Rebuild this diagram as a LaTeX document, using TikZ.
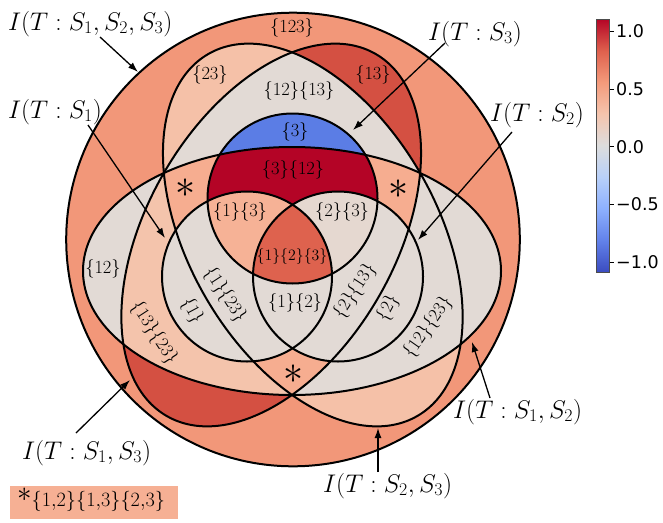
\RequirePackage{fix-cm}
\documentclass[tikz,border=0pt]{standalone}
\usepackage{fontspec}
\newfontfamily\dejavu{DejaVu Sans}
\usetikzlibrary{arrows.meta}

\definecolor{cOuter}{RGB}{242,151,121}
\definecolor{cThirteen}{RGB}{212,80,66}
\definecolor{cTwentyThree}{RGB}{245,193,168}
\definecolor{cGrey}{RGB}{226,218,213}
\definecolor{cStar}{RGB}{246,173,144}
\definecolor{cThirteenTwentyThree}{RGB}{244,196,172}
\definecolor{cThree}{RGB}{91,125,229}
\definecolor{cThreeTwelve}{RGB}{180,4,38}
\definecolor{cOneThree}{RGB}{246,178,150}
\definecolor{cTwoThree}{RGB}{229,216,208}
\definecolor{cCenter}{RGB}{222,98,78}
\definecolor{cLegend}{RGB}{246,176,148}
\definecolor{cwA}{RGB}{59,76,192}
\definecolor{cwB}{RGB}{98,130,234}
\definecolor{cwC}{RGB}{141,176,254}
\definecolor{cwD}{RGB}{184,208,249}
\definecolor{cwE}{RGB}{221,221,221}
\definecolor{cwF}{RGB}{245,196,173}
\definecolor{cwG}{RGB}{244,154,123}
\definecolor{cwH}{RGB}{222,96,77}
\definecolor{cwI}{RGB}{180,4,38}

\pgfdeclareverticalshading{coolwarmsh}{100bp}{color(0bp)=(cwA); color(25bp)=(cwA); color(31.25bp)=(cwB); color(37.5bp)=(cwC); color(43.75bp)=(cwD); color(50bp)=(cwE); color(56.25bp)=(cwF); color(62.5bp)=(cwG); color(68.75bp)=(cwH); color(75bp)=(cwI); color(100bp)=(cwI)}

\tikzset{
  pO/.style={insert path={(293,239.5) circle[radius=226.8]}},
  pA/.style={insert path={(292,271) circle[x radius=209, y radius=124]}},
  pB/.style={insert path={(271.2,235) circle[x radius=209, y radius=124, rotate=60]}},
  pC/.style={insert path={(312.8,235) circle[x radius=209, y radius=124, rotate=-60]}},
  pSa/.style={insert path={(247,276.5) circle[radius=85]}},
  pSb/.style={insert path={(338,276.5) circle[radius=85]}},
  pSc/.style={insert path={(292.5,198.5) circle[radius=85]}},
  outline/.style={draw=black, line width=2pt},
  region/.style={font=\fontsize{18.5}{22}\selectfont, inner sep=0pt},
  smallregion/.style={font=\fontsize{15.8}{18}\selectfont, inner sep=0pt},
  starlbl/.style={font=\fontsize{40}{44}\selectfont, inner sep=0pt},
  annot/.style={font=\fontsize{25.5}{30}\selectfont, inner sep=0pt},
  arr/.style={-{Latex[length=10pt,width=7pt]}, line width=1.3pt, black},
  cbl/.style={font=\dejavu\fontsize{17.5}{20}\selectfont, inner sep=0pt},
}

\begin{document}
\begin{tikzpicture}[x=1pt,y=-1pt]
\useasboundingbox (0,0) rectangle (663,522);

% ---- region fills ----
\fill[cOuter, pO];
\fill[cThirteen, pB];
\fill[cTwentyThree, pC];
\fill[cGrey, pA];
\begin{scope}\clip[pB]; \fill[cGrey, pC]; \end{scope}
\begin{scope}\clip[pA]; \fill[cThirteenTwentyThree, pB]; \end{scope}
\begin{scope}\clip[pA]; \fill[cGrey, pC]; \end{scope}
\begin{scope}\clip[pA]; \clip[pB]; \fill[cStar, pC]; \end{scope}
\fill[cGrey, pSa];
\fill[cGrey, pSb];
\fill[cThree, pSc];
\begin{scope}\clip[pA]; \fill[cThreeTwelve, pSc]; \end{scope}
\begin{scope}\clip[pSa]; \fill[cOneThree, pSc]; \end{scope}
\begin{scope}\clip[pSb]; \fill[cTwoThree, pSc]; \end{scope}
\begin{scope}\clip[pSa]; \fill[cGrey, pSb]; \end{scope}
\begin{scope}\clip[pSa]; \clip[pSb]; \fill[cCenter, pSc]; \end{scope}

% ---- outlines ----
\path[outline, pO];
\path[outline, pA];
\path[outline, pB];
\path[outline, pC];
\path[outline, pSa];
\path[outline, pSb];
\path[outline, pSc];

% ---- region labels ----
\node[region] (r123) at (292,28) {$\{123\}$};
\node[region] (r23) at (210,75) {$\{23\}$};
\node[region] (r13) at (373,75) {$\{13\}$};
\node[region] (r12r13) at (299,91) {$\{12\}\{13\}$};
\node[region] (r3) at (295,132) {$\{3\}$};
\node[region] (r3r12) at (293,170) {$\{3\}\{12\}$};
\node[region] (r1r3) at (240,212) {$\{1\}\{3\}$};
\node[region] (r2r3) at (342,212) {$\{2\}\{3\}$};
\node[smallregion] (r1r2r3) at (292,257) {$\{1\}\{2\}\{3\}$};
\node[region] (r12) at (103,269) {$\{12\}$};
\node[region, rotate=-57] (r1r23) at (225,295) {$\{1\}\{23\}$};
\node[region, rotate=-62] (r1) at (192,311) {$\{1\}$};
\node[region] (r1r2) at (295,303) {$\{1\}\{2\}$};
\node[region, rotate=57] (r2r13) at (355,291) {$\{2\}\{13\}$};
\node[region, rotate=62] (r2) at (388,308) {$\{2\}$};
\node[region, rotate=55] (r12r23) at (428,327) {$\{12\}\{23\}$};
\node[region, rotate=-57] (r13r23) at (154,333) {$\{13\}\{23\}$};
\node[starlbl] (stl) at (185,188) {$\ast$};
\node[starlbl] (str) at (398,189) {$\ast$};
\node[starlbl] (stb) at (293,374) {$\ast$};

% ---- annotations ----
\node[annot, anchor=base west] (aAll) at (8,30) {$I(T:S_1,S_2,S_3)$};
\node[annot, anchor=base west] (aOne) at (8,118) {$I(T:S_1)$};
\node[annot, anchor=base west] (aThree) at (428,40) {$I(T:S_3)$};
\node[annot, anchor=base west] (aTwo) at (490,121) {$I(T:S_2)$};
\node[annot, anchor=base west] (aOneTwo) at (453,418) {$I(T:S_1,S_2)$};
\node[annot, anchor=base west] (aOneThree) at (22,459) {$I(T:S_1,S_3)$};
\node[annot, anchor=base west] (aTwoThree) at (323,492) {$I(T:S_2,S_3)$};

\coordinate (sAll) at (100,37);   \coordinate (eAll) at (138,72);
\coordinate (sOne) at (88,125);   \coordinate (eOne) at (165,238);
\coordinate (sThree) at (445,43); \coordinate (eThree) at (353,130);
\coordinate (sTwo) at (512,132);  \coordinate (eTwo) at (418,240);
\coordinate (sOneTwo) at (490,398); \coordinate (eOneTwo) at (472,342);
\coordinate (sOneThree) at (76,433); \coordinate (eOneThree) at (130,380);
\coordinate (sTwoThree) at (378,472); \coordinate (eTwoThree) at (378,428);
\draw[arr] (sAll) -- (eAll);
\draw[arr] (sOne) -- (eOne);
\draw[arr] (sThree) -- (eThree);
\draw[arr] (sTwo) -- (eTwo);
\draw[arr] (sOneTwo) -- (eOneTwo);
\draw[arr] (sOneThree) -- (eOneThree);
\draw[arr] (sTwoThree) -- (eTwoThree);

% ---- legend ----
\fill[cLegend] (10,486) rectangle (178,519);
\node[font=\fontsize{29}{34}\selectfont, inner sep=0pt, anchor=west] (leg) at (17,500) {$\ast_{\{1,2\}\{1,3\}\{2,3\}}$};

% ---- colorbar ----
\shade[shading=coolwarmsh] (596.5,19) rectangle (609.5,272);
\draw[line width=0.6pt, black!70] (596.5,19) rectangle (609.5,272);
\foreach \yy in {31.5,89.1,146.7,204.3,261.9} {\draw[line width=0.7pt] (609.5,\yy) -- (613.5,\yy);}
\node[cbl, anchor=west] (tA) at (616,31.5) {1.0};
\node[cbl, anchor=west] (tB) at (616,89.1) {0.5};
\node[cbl, anchor=west] (tC) at (616,146.7) {0.0};
\node[cbl, anchor=west] (tD) at (616,204.3) {−0.5};
\node[cbl, anchor=west] (tE) at (616,261.9) {−1.0};
\end{tikzpicture}
\end{document}
